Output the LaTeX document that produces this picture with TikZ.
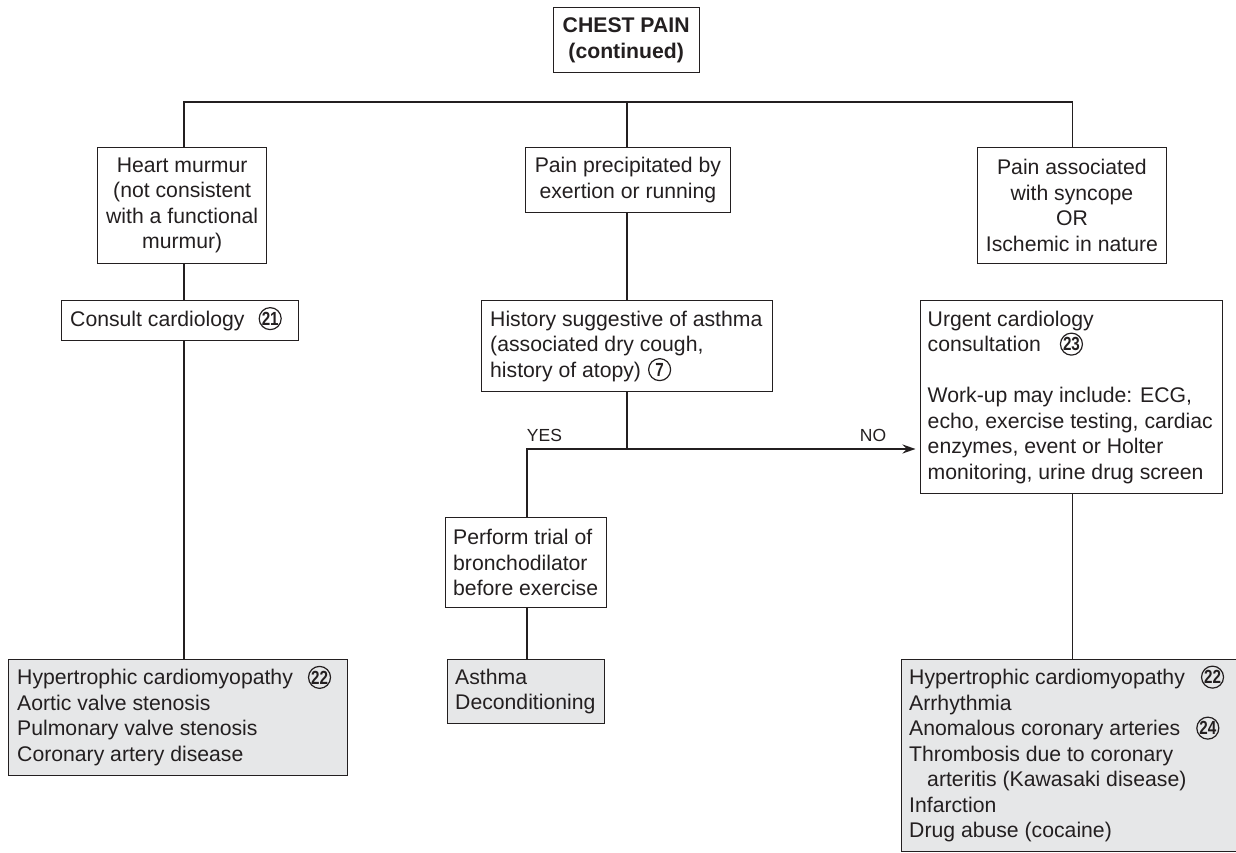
\documentclass[tikz,border=0pt]{standalone}
\usepackage{graphicx}
\usepackage{fontspec}
\setmainfont{Liberation Sans}
\usetikzlibrary{arrows.meta}
\definecolor{ink}{HTML}{231F20}
\definecolor{boxgrey}{HTML}{E6E7E8}
\newcommand{\cnum}[1]{\smash{\tikz[baseline=-7.5pt]\node[name=cn,draw=ink,fill=none,circle,line width=1.2pt,inner sep=0pt,minimum size=22pt,align=center,text=ink,font=\fontsize{19}{19}\selectfont\bfseries]{\scalebox{0.8}[1]{#1}};}}
\begin{document}
\begin{tikzpicture}[x=1pt,y=-1pt,
  box/.style={draw=ink,line width=1.3pt,rectangle,inner sep=0pt,anchor=north west},
  gbox/.style={box,fill=boxgrey},
  txt/.style={inner sep=0pt,font=\fontsize{21.2}{25.5}\selectfont,text=ink},
  ltxt/.style={txt,align=left,anchor=west},
  ctxt/.style={txt,align=center},
  conn/.style={draw=ink,line width=1.7pt},
  lab/.style={inner sep=0pt,font=\fontsize{17.5}{20}\selectfont,text=ink}]
\useasboundingbox (0,0) rectangle (1236,853);
\fill[white] (0,0) rectangle (1236,853);

% boxes
\node[box,minimum width=146pt,minimum height=65pt] (title) at (552.5,7) {};
\node[box,minimum width=169pt,minimum height=116pt] (hm) at (97,147) {};
\node[box,minimum width=204.5pt,minimum height=65pt] (pp) at (525,147) {};
\node[box,minimum width=189.5pt,minimum height=116pt] (pa) at (976.5,147) {};
\node[box,minimum width=237pt,minimum height=40pt] (cc) at (61,300) {};
\node[box,minimum width=291pt,minimum height=91pt] (hist) at (481,300) {};
\node[box,minimum width=302pt,minimum height=193pt] (urg) at (919.5,300) {};
\node[box,minimum width=161pt,minimum height=90pt] (perf) at (445,517) {};
\node[gbox,minimum width=157pt,minimum height=64pt] (asth) at (447,659) {};
\node[gbox,minimum width=339pt,minimum height=116pt] (gl) at (8,659) {};
\node[gbox,minimum width=360pt,minimum height=192pt] (gr) at (901,659) {};

% texts
\node[ctxt,font=\fontsize{21.2}{26}\selectfont\bfseries] (title-t) at (title.center) {CHEST PAIN\\(continued)};
\node[ctxt] (hm-t) at (hm.center) {Heart murmur\\(not consistent\\with a functional\\murmur)};
\node[ctxt] (pp-t) at (pp.center) {Pain precipitated by\\exertion or running};
\node[ctxt] (pa-t) at (pa.center) {Pain associated\\with syncope\\OR\\Ischemic in nature};
\node[ltxt] (cc-t) at ([xshift=9pt]cc.west) {Consult cardiology\hspace{14pt}\cnum{21}};
\node[ltxt] (hist-t) at ([xshift=9pt]hist.west) {History suggestive of asthma\\(associated dry cough,\\history of atopy)\hspace{7pt}\cnum{7}};
\node[ltxt] (urg-t) at ([xshift=8pt]urg.west) {Urgent cardiology\\consultation\hspace{19pt}\cnum{23}\\[25.5pt]Work-up may include: ECG,\\echo, exercise testing, cardiac\\enzymes, event or Holter\\monitoring, urine drug screen};
\node[ltxt] (perf-t) at ([xshift=8pt]perf.west) {Perform trial of\\bronchodilator\\before exercise};
\node[ltxt] (asth-t) at ([xshift=8pt]asth.west) {Asthma\\Deconditioning};
\node[ltxt] (gl-t) at ([xshift=9pt]gl.west) {Hypertrophic cardiomyopathy\hspace{15pt}\cnum{22}\\Aortic valve stenosis\\Pulmonary valve stenosis\\Coronary artery disease};
\node[ltxt] (gr-t) at ([xshift=8pt]gr.west) {Hypertrophic cardiomyopathy\hspace{16pt}\cnum{22}\\Arrhythmia\\Anomalous coronary arteries\hspace{16pt}\cnum{24}\\Thrombosis due to coronary\\\hspace*{18pt}arteritis (Kawasaki disease)\\Infarction\\Drug abuse (cocaine)};

% connectors
\coordinate (L) at (184,102);
\coordinate (C) at (627,102);
\coordinate (R) at (1072.5,102);
\coordinate (J) at (627,449);
\coordinate (Y) at (527,449);
\draw[conn] (L |- hm.north) -- (L) -- (R) -- (R |- pa.north);
\draw[conn] (C) -- (C |- pp.north);
\draw[conn] (L |- hm.south) -- (L |- cc.north);
\draw[conn] (L |- cc.south) -- (L |- gl.north);
\draw[conn] (C |- pp.south) -- (C |- hist.north);
\draw[conn] (C |- hist.south) -- (J);
\draw[conn] (Y |- perf.north) -- (Y) -- (J);
\draw[conn,-{Stealth[length=13pt,width=9pt]},shorten >=4pt] (J) -- (J -| urg.west);
\draw[conn] (Y |- perf.south) -- (Y |- asth.north);
\draw[conn] (R |- urg.south) -- (R |- gr.north);
\node[lab] (yes) at (544.5,435) {YES};
\node[lab] (no) at (873,435) {NO};
\end{tikzpicture}
\end{document}
